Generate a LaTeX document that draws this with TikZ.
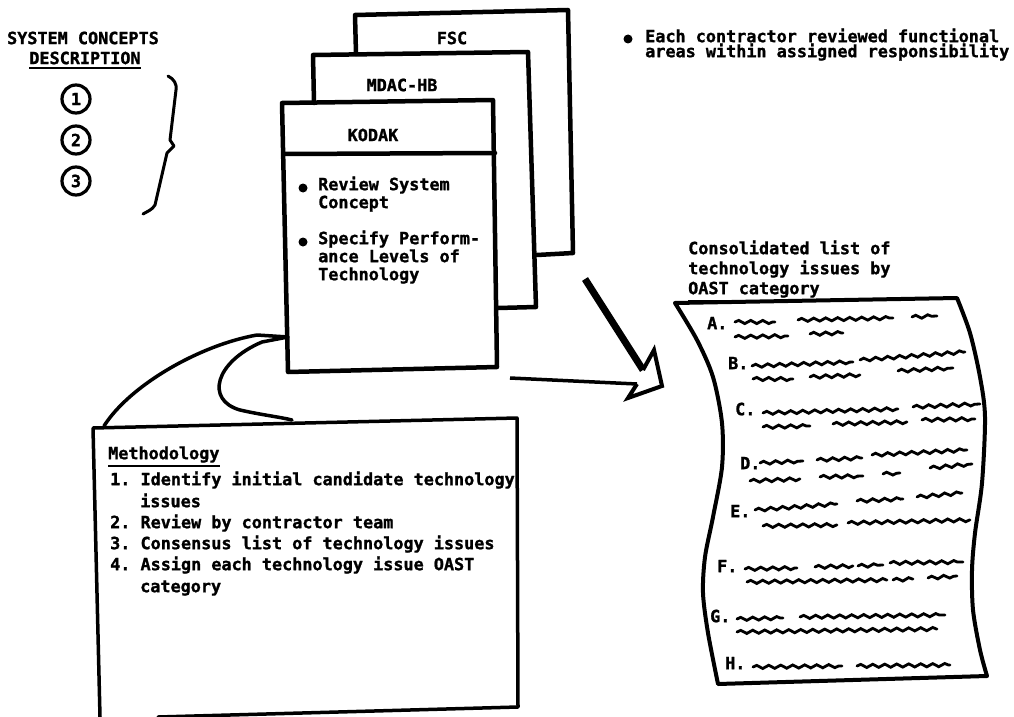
\documentclass[tikz,border=0pt]{standalone}
\usepackage{fontspec}
\setmonofont{DejaVu Sans Mono}[BoldFeatures={FakeBold=1.3}]
\usetikzlibrary{decorations.pathmorphing}
\newcommand\twfont{\ttfamily\bfseries\fontsize{16.8}{15}\selectfont}
\begin{document}
\begin{tikzpicture}[x=1pt,y=-1pt,
  txt/.style={font=\twfont, inner sep=0pt},
  ltxt/.style={font=\twfont, inner sep=0pt, anchor=mid west},
  box/.style={line width=4.5pt, line join=round, line cap=round},
  thin/.style={line width=3.5pt, line join=round, line cap=round},
  bul/.style={circle, fill, inner sep=0pt, minimum size=9pt},
  circ/.style={circle, draw, line width=3.2pt, minimum size=28pt, inner sep=0pt, font=\twfont},
  squig/.style={line width=2.8pt, line cap=round, decorate, decoration={snake, amplitude=1.6pt, segment length=12pt}}]
\useasboundingbox (0,0) rectangle (1014,717);

% ---- system concepts ----
\node[txt] (sys) at (83,38) {SYSTEM CONCEPTS};
\node[txt] (desc) at (85,58) {DESCRIPTION};
\draw[line width=2pt] ([yshift=-3pt]desc.south west) -- ([yshift=-3pt]desc.south east);
\node[circ] (c1) at (76,99) {1};
\node[circ] (c2) at (76,140) {2};
\node[circ] (c3) at (76,181) {3};
\draw[line width=3pt, line join=round, line cap=round]
  (168,76) .. controls (174,79) and (177,84) .. (176,90)
  -- (170,140) -- (174,146) -- (167,153)
  -- (155,205) .. controls (152,210) and (148,211) .. (143,214);

% ---- contractor stack ----
\draw[box] (356,54) -- (355,15) -- (568,10) -- (573,253) -- (537,255);
\node[txt] (fsc) at (452,38) {FSC};
\draw[box] (314,103) -- (313,55) -- (528,52) -- (536,307) -- (498,308);
\node[txt] (mdac) at (402,85) {MDAC-HB};
\draw[box] (282,103) -- (493,100) -- (497,367) -- (288,372) -- cycle;
\draw[box] (284,154) -- (495,153);
\node[txt] (kodak) at (373,135) {KODAK};
\node[bul] (b1) at (303,188) {};
\node[ltxt] (k1) at (318,188) {Review System};
\node[ltxt] (k2) at (318,206) {Concept};
\node[bul] (b2) at (303,242) {};
\node[ltxt] (k3) at (318,242) {Specify Perform-};
\node[ltxt] (k4) at (318,260) {ance Levels of};
\node[ltxt] (k5) at (318,278) {Technology};

% ---- top right note ----
\node[bul] (b3) at (628,39) {};
\node[ltxt] (n1) at (645,40) {Each contractor reviewed functional};
\node[ltxt] (n2) at (645,55) {areas within assigned responsibility};

% ---- methodology ----
\coordinate (kl) at (288,337);
\coordinate (mt1) at (104,426);
\coordinate (mt2) at (292,420);
\draw[thin] (kl) -- (257,335) .. controls (200,345) and (130,385) .. (mt1);
\draw[thin] (kl) -- (262,342) .. controls (215,362) and (205,400) .. (240,410)
  .. controls (262,415) and (280,417) .. (mt2);
\draw[thin] (100,717) -- (93,428) -- (517,418) -- (518,707) -- (158,717);
\node[ltxt] (mh) at (108,457) {Methodology};
\draw[line width=2pt] ([yshift=-3pt]mh.south west) -- ([yshift=-3pt]mh.south east);
\node[ltxt] (m1) at (110,483) {1. Identify initial candidate technology};
\node[ltxt] (m2) at (140,505) {issues};
\node[ltxt] (m3) at (110,526) {2. Review by contractor team};
\node[ltxt] (m4) at (110,547) {3. Consensus list of technology issues};
\node[ltxt] (m5) at (110,568) {4. Assign each technology issue OAST};
\node[ltxt] (m6) at (140,590) {category};

% ---- big arrow ----
\coordinate (d1) at (585,279);
\coordinate (d2) at (643,370);
\coordinate (h1) at (510,378);
\coordinate (h2) at (637,384);
\draw[line width=7pt] (d1) -- (d2);
\draw[line width=4pt, line join=miter] (d2) -- (654,350) -- (662,386) -- (628,398) -- (h2);
\draw[line width=3.5pt] (h1) -- (h2);

% ---- consolidated list ----
\node[ltxt] (t1) at (688,252) {Consolidated list of};
\node[ltxt] (t2) at (688,272) {technology issues by};
\node[ltxt] (t3) at (688,292) {OAST category};
\draw[line width=2pt] ([yshift=-3pt]t3.south west) -- ([yshift=-3pt]t3.south east);
\draw[box, line width=4pt] (675,303) -- (957,298)
  -- plot[smooth] coordinates {(957,298) (970,333) (980,377) (985,417) (982,483) (975,533) (972,570) (973,610) (980,650) (987,676)}
  -- (718,684)
  -- plot[smooth] coordinates {(718,684) (708,633) (703,593) (705,557) (713,517) (722,467) (722,423) (713,377) (697,340) (675,303)};

\node[ltxt] (lA) at (707,327) {A.};
\node[ltxt] (lB) at (728,367) {B.};
\node[ltxt] (lC) at (735,413) {C.};
\node[ltxt] (lD) at (740,467) {D.};
\node[ltxt] (lE) at (730,515) {E.};
\node[ltxt] (lF) at (717,570) {F.};
\node[ltxt] (lG) at (710,620) {G.};
\node[ltxt] (lH) at (725,667) {H.};

% A
\draw[squig] (735,322) -- (775,322);
\draw[squig] (798,320) -- (893,318);
\draw[squig] (912,317) -- (937,316);
\draw[squig] (735,337) -- (788,336);
\draw[squig] (810,334) -- (843,333);
% B
\draw[squig] (752,366) -- (853,362);
\draw[squig] (860,360) -- (965,352);
\draw[squig] (753,379) -- (793,379);
\draw[squig] (810,377) -- (860,375);
\draw[squig] (898,371) -- (953,368);
% C
\draw[squig] (763,413) -- (898,409);
\draw[squig] (913,407) -- (980,404);
\draw[squig] (763,427) -- (810,426);
\draw[squig] (833,424) -- (907,422);
\draw[squig] (922,420) -- (975,419);
% D
\draw[squig] (760,463) -- (803,461);
\draw[squig] (817,460) -- (862,458);
\draw[squig] (872,455) -- (967,450);
\draw[squig] (750,481) -- (800,479);
\draw[squig] (820,477) -- (863,476);
\draw[squig] (883,474) -- (900,473);
\draw[squig] (930,468) -- (972,464);
% E
\draw[squig] (755,510) -- (837,504);
\draw[squig] (857,501) -- (903,499);
\draw[squig] (917,497) -- (962,493);
\draw[squig] (763,526) -- (837,525);
\draw[squig] (848,523) -- (970,520);
% F
\draw[squig] (745,569) -- (797,568);
\draw[squig] (815,567) -- (853,566);
\draw[squig] (858,566) -- (883,565);
\draw[squig] (890,563) -- (963,562);
\draw[squig] (747,582) -- (887,580);
\draw[squig] (893,580) -- (913,579);
\draw[squig] (928,578) -- (957,576);
% G
\draw[squig] (737,619) -- (783,618);
\draw[squig] (800,617) -- (945,615);
\draw[squig] (737,632) -- (937,629);
% H
\draw[squig] (753,667) -- (842,666);
\draw[squig] (857,666) -- (950,665);
\end{tikzpicture}
\end{document}
